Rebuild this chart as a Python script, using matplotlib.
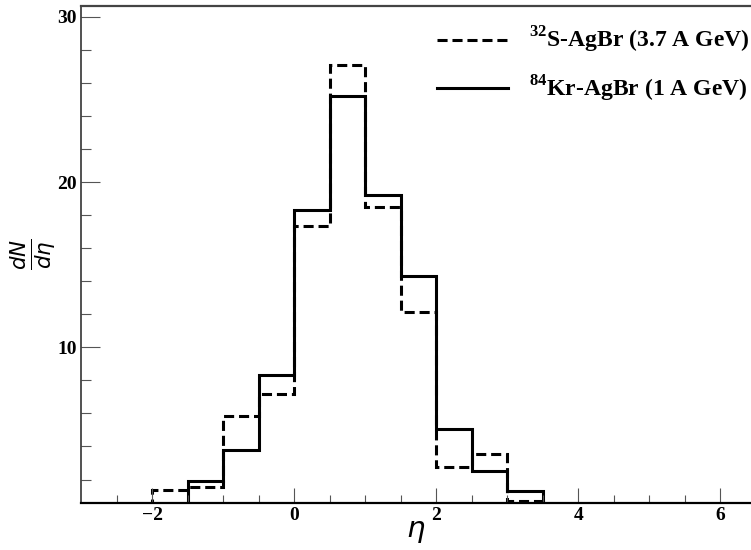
import matplotlib
matplotlib.use("Agg")
import matplotlib.pyplot as plt
import numpy as np

# bin edges (eta), width 0.5
edges = np.arange(-3.0, 6.51, 0.5)

# 32S-AgBr (3.7 A GeV)
s_agbr = [0, 0, 1.37, 1.57, 5.84, 7.2, 17.36, 27.06, 18.5, 12.15, 2.74, 3.55, 0.7,
          0, 0, 0, 0, 0, 0]
# 84Kr-AgBr (1 A GeV)
kr_agbr = [0, 0, 0, 1.93, 3.79, 8.3, 18.3, 25.18, 19.21, 14.31, 5.06, 2.52, 1.31,
           0, 0, 0, 0, 0, 0]

s_label = r'$^{32}$S-AgBr (3.7 A GeV)'
kr_label = r'$^{84}$Kr-AgBr (1 A GeV)'

plt.rcParams['mathtext.fontset'] = 'custom'
plt.rcParams['mathtext.rm'] = 'Liberation Serif:bold'
plt.rcParams['mathtext.bf'] = 'Liberation Serif:bold'
plt.rcParams['mathtext.it'] = 'DejaVu Sans:italic'

fig = plt.figure(figsize=(7.51, 5.5), dpi=100)
ax = fig.add_axes([81 / 751, 1 - 503 / 550, 1 - 81 / 751, (503 - 6) / 550])

ax.stairs(s_agbr, edges, baseline=None, color='black', lw=2.2,
          linestyle=(0, (3.3, 1.6)), label=s_label)
ax.stairs(kr_agbr, edges, baseline=None, color='black', lw=2.2, label=kr_label)

ax.set_xlim(-3.0, 6.43)
ax.set_ylim(0.58, 30.65)

ax.set_xticks([-2, 0, 2, 4, 6])
ax.set_xticks(np.arange(-2.5, 6.5, 0.5), minor=True)
ax.set_yticks([10, 20, 30])
ax.set_yticks([2, 4, 6, 8, 12, 14, 16, 18, 22, 24, 26, 28], minor=True)

ax.tick_params(axis='both', which='both', direction='in', color='#555555', width=0.8)
ax.tick_params(axis='y', which='major', length=14, pad=3)
ax.tick_params(axis='y', which='minor', length=7)
ax.tick_params(axis='x', which='major', length=11, pad=3)
ax.tick_params(axis='x', which='minor', length=6)
for lab in ax.get_xticklabels() + ax.get_yticklabels():
    lab.set_fontfamily('Liberation Serif')
    lab.set_fontweight('bold')
    lab.set_fontsize(14)

ax.spines['right'].set_visible(False)
ax.spines['top'].set_color('#444444')
ax.spines['top'].set_linewidth(1.6)
ax.spines['left'].set_color('#333333')
ax.spines['left'].set_linewidth(1.2)
ax.spines['bottom'].set_color('black')
ax.spines['bottom'].set_linewidth(1.6)

ax.set_xlabel(r'$\eta$', fontsize=21, labelpad=-5)
ax.set_ylabel(r'$\frac{dN}{d\eta}$', fontsize=22, rotation=90, labelpad=0)

leg = fig.legend(loc='upper left', bbox_to_anchor=(437 / 751, 1 - 25 / 550),
                 frameon=False, borderpad=0, borderaxespad=0,
                 handlelength=3.0, handletextpad=0.9, labelspacing=0.78,
                 prop={'family': 'Liberation Serif', 'weight': 'bold', 'size': 17})

fig.savefig('out.png', dpi=100)
